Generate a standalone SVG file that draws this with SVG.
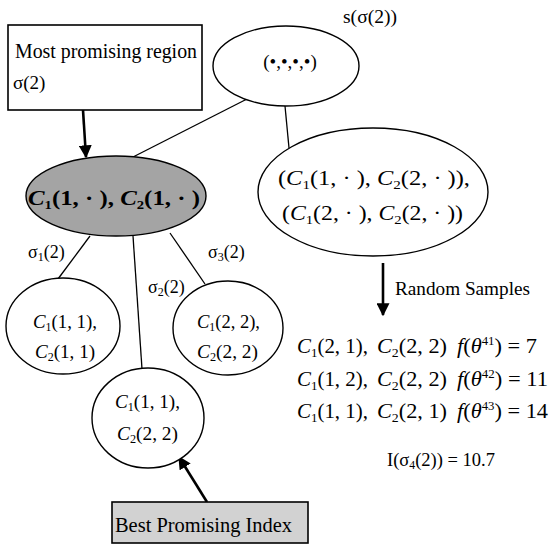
<svg xmlns="http://www.w3.org/2000/svg" width="551" height="553" viewBox="0 0 551 553" font-family="'Liberation Serif', 'Times New Roman', 'DejaVu Serif', serif">
<defs>
<style>
.n{fill:#fff;stroke:#000;stroke-width:1.4}
.g{fill:#a4a4a4;stroke:#000;stroke-width:1.4}
.b{fill:#d2d2d2;stroke:#000;stroke-width:1.6}
text{font-family:'Liberation Serif','Times New Roman','DejaVu Serif',serif;fill:#000}
.t{font-size:18px}
.m{font-size:21px}
.c{font-size:19px}
.i{font-style:italic}
.s{font-size:12px}
.l{stroke:#000;stroke-width:1.3;fill:none}
.a{stroke:#000;stroke-width:2.6;fill:none}
</style>
<marker id="ah" viewBox="0 0 10 10" refX="9" refY="5" markerWidth="5" markerHeight="5" markerUnits="strokeWidth" orient="auto">
<path d="M0,0 L10,5 L0,10 z" fill="#000"/>
</marker>
</defs>
<g id="connectors">
<line class="l" x1="247" y1="99" x2="133" y2="157"/>
<line class="l" x1="285" y1="106" x2="289" y2="148"/>
<line class="l" x1="90" y1="236" x2="58" y2="279"/>
<line class="l" x1="133" y1="236" x2="142" y2="369"/>
<line class="l" x1="170" y1="233" x2="205" y2="284"/>
<line class="a" x1="83" y1="110" x2="86" y2="157" marker-end="url(#ah)"/>
<line class="a" x1="207" y1="502" x2="179" y2="457" marker-end="url(#ah)"/>
<line class="a" x1="383" y1="263" x2="383" y2="315" marker-end="url(#ah)"/>
</g>
<g id="box-most-promising">
<rect class="n" x="8" y="25" width="194" height="85" style="stroke-width:1.6"/>
<text class="t" x="15" y="58" style="font-size:20px" textLength="182" lengthAdjust="spacingAndGlyphs">Most promising region</text>
<text class="t" x="13" y="89" style="font-size:19px">σ(2)</text>
</g>
<g id="node-root">
<ellipse class="n" cx="286" cy="66" rx="73" ry="40"/>
<text class="m" x="290" y="68" text-anchor="middle" style="font-size:19px">(•,•,•,•)</text>
<text class="t" x="343" y="23" textLength="54" lengthAdjust="spacingAndGlyphs">s(σ(2))</text>
</g>
<g id="node-sigma2">
<ellipse class="g" cx="116" cy="196" rx="90" ry="40"/>
<text class="m" x="28" y="205" style="font-size:22px;font-weight:bold" textLength="172" lengthAdjust="spacingAndGlyphs"><tspan class="i">C</tspan><tspan style="font-size:13px" dy="4">1</tspan><tspan dy="-4">(1, · ), </tspan><tspan class="i">C</tspan><tspan style="font-size:13px" dy="4">2</tspan><tspan dy="-4">(1, · )</tspan></text>
</g>
<g id="node-complement">
<ellipse class="n" cx="373" cy="192" rx="115" ry="64"/>
<text class="m" x="278" y="185" textLength="192" lengthAdjust="spacingAndGlyphs">(<tspan class="i">C</tspan><tspan style="font-size:13px" dy="4">1</tspan><tspan dy="-4">(1,  · ), </tspan><tspan class="i">C</tspan><tspan style="font-size:13px" dy="4">2</tspan><tspan dy="-4">(2,  · )),</tspan></text>
<text class="m" x="282" y="220" textLength="181" lengthAdjust="spacingAndGlyphs">(<tspan class="i">C</tspan><tspan style="font-size:13px" dy="4">1</tspan><tspan dy="-4">(2,  · ), </tspan><tspan class="i">C</tspan><tspan style="font-size:13px" dy="4">2</tspan><tspan dy="-4">(2,  · ))</tspan></text>
</g>
<g id="labels-sigma">
<text class="t" x="28" y="258">σ<tspan class="s" dy="3">1</tspan><tspan dy="-3">(2)</tspan></text>
<text class="t" x="208" y="258">σ<tspan class="s" dy="3">3</tspan><tspan dy="-3">(2)</tspan></text>
<text class="t" x="148" y="293">σ<tspan class="s" dy="3">2</tspan><tspan dy="-3">(2)</tspan></text>
</g>
<g id="node-sigma1">
<ellipse class="n" cx="63" cy="326" rx="57" ry="48"/>
<text class="c" x="33" y="328" textLength="64" lengthAdjust="spacingAndGlyphs"><tspan class="i">C</tspan><tspan class="s" dy="3">1</tspan><tspan dy="-3">(1, 1),</tspan></text>
<text class="c" x="35" y="358" textLength="60" lengthAdjust="spacingAndGlyphs"><tspan class="i">C</tspan><tspan class="s" dy="3">2</tspan><tspan dy="-3">(1, 1)</tspan></text>
</g>
<g id="node-sigma3">
<ellipse class="n" cx="228" cy="328" rx="55" ry="47"/>
<text class="c" x="197" y="328" textLength="63" lengthAdjust="spacingAndGlyphs"><tspan class="i">C</tspan><tspan class="s" dy="3">1</tspan><tspan dy="-3">(2, 2),</tspan></text>
<text class="c" x="197" y="358" textLength="61" lengthAdjust="spacingAndGlyphs"><tspan class="i">C</tspan><tspan class="s" dy="3">2</tspan><tspan dy="-3">(2, 2)</tspan></text>
</g>
<g id="node-sigma2-child">
<ellipse class="n" cx="148" cy="418" rx="56" ry="50"/>
<text class="c" x="115" y="408" textLength="65" lengthAdjust="spacingAndGlyphs"><tspan class="i">C</tspan><tspan class="s" dy="3">1</tspan><tspan dy="-3">(1, 1),</tspan></text>
<text class="c" x="117" y="440" textLength="61" lengthAdjust="spacingAndGlyphs"><tspan class="i">C</tspan><tspan class="s" dy="3">2</tspan><tspan dy="-3">(2, 2)</tspan></text>
</g>
<g id="box-best">
<rect class="b" x="112" y="502" width="196" height="41"/>
<text class="t" x="115" y="532" style="font-size:20px" textLength="177" lengthAdjust="spacingAndGlyphs">Best Promising Index</text>
</g>
<g id="random-samples">
<text class="t" x="395" y="295" textLength="135" lengthAdjust="spacingAndGlyphs">Random Samples</text>
<text class="m" x="297" y="353" textLength="71" lengthAdjust="spacingAndGlyphs"><tspan class="i">C</tspan><tspan style="font-size:13px" dy="4">1</tspan><tspan dy="-4">(2, 1),</tspan></text>
<text class="m" x="377" y="353" textLength="70" lengthAdjust="spacingAndGlyphs"><tspan class="i">C</tspan><tspan style="font-size:13px" dy="4">2</tspan><tspan dy="-4">(2, 2)</tspan></text>
<text class="m" x="457" y="353" textLength="80" lengthAdjust="spacingAndGlyphs"><tspan class="i">f</tspan>(<tspan class="i">θ</tspan><tspan class="s" dy="-8">41</tspan><tspan dy="8">) = 7</tspan></text>
<text class="m" x="297" y="386" textLength="71" lengthAdjust="spacingAndGlyphs"><tspan class="i">C</tspan><tspan style="font-size:13px" dy="4">1</tspan><tspan dy="-4">(1, 2),</tspan></text>
<text class="m" x="377" y="386" textLength="70" lengthAdjust="spacingAndGlyphs"><tspan class="i">C</tspan><tspan style="font-size:13px" dy="4">2</tspan><tspan dy="-4">(2, 2)</tspan></text>
<text class="m" x="457" y="386" textLength="91" lengthAdjust="spacingAndGlyphs"><tspan class="i">f</tspan>(<tspan class="i">θ</tspan><tspan class="s" dy="-8">42</tspan><tspan dy="8">) = 11</tspan></text>
<text class="m" x="297" y="418" textLength="71" lengthAdjust="spacingAndGlyphs"><tspan class="i">C</tspan><tspan style="font-size:13px" dy="4">1</tspan><tspan dy="-4">(1, 1),</tspan></text>
<text class="m" x="377" y="418" textLength="70" lengthAdjust="spacingAndGlyphs"><tspan class="i">C</tspan><tspan style="font-size:13px" dy="4">2</tspan><tspan dy="-4">(2, 1)</tspan></text>
<text class="m" x="457" y="418" textLength="91" lengthAdjust="spacingAndGlyphs"><tspan class="i">f</tspan>(<tspan class="i">θ</tspan><tspan class="s" dy="-8">43</tspan><tspan dy="8">) = 14</tspan></text>
<text class="t" x="387" y="466" style="font-size:19px" textLength="108" lengthAdjust="spacingAndGlyphs">I(σ<tspan class="s" dy="3">4</tspan><tspan dy="-3">(2)) = 10.7</tspan></text>
</g>
</svg>
